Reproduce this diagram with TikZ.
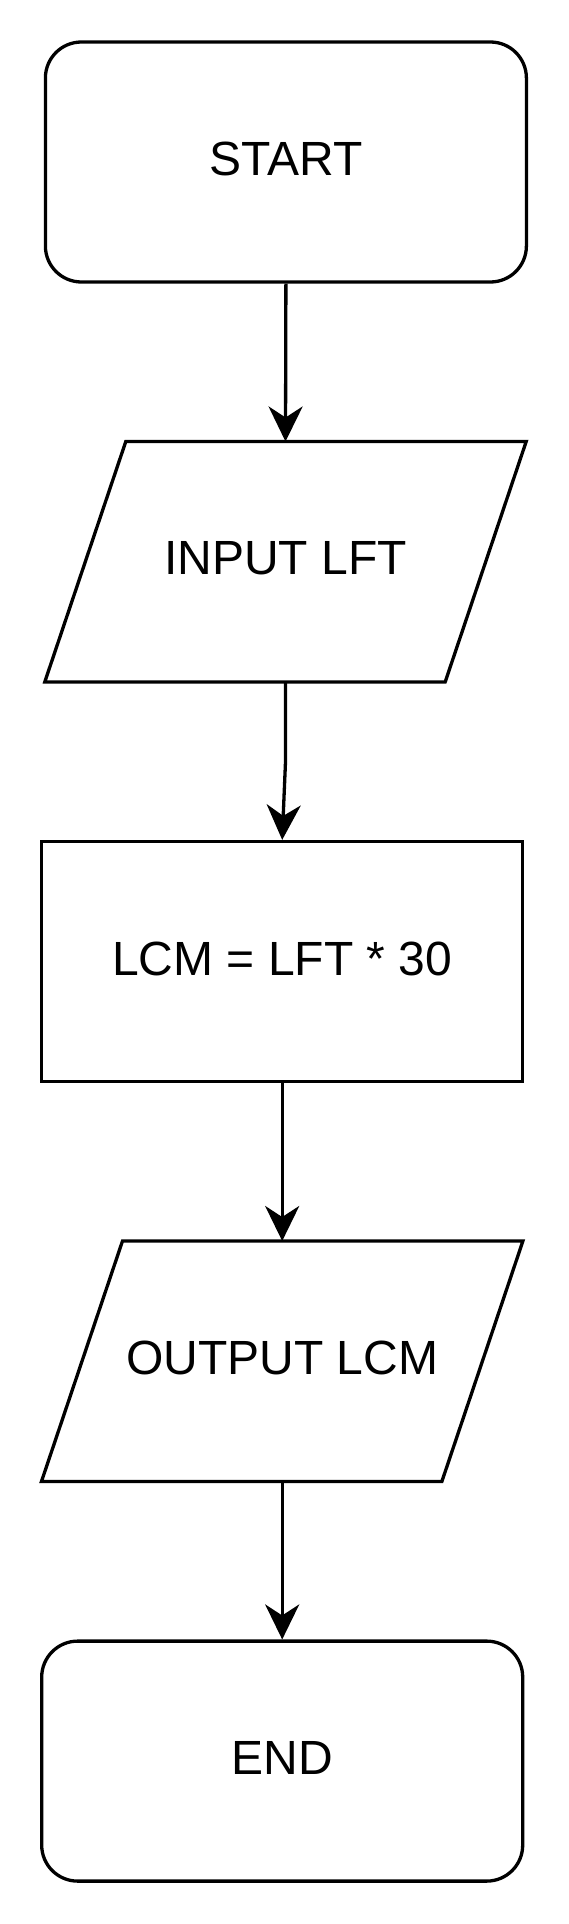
\documentclass[tikz,border=0pt]{standalone}
\usepackage{fontspec}
\setmainfont{Liberation Sans}
\usetikzlibrary{arrows.meta,calc}
\begin{document}
\begin{tikzpicture}[x=1pt,y=-1pt,
  every node/.style={font=\fontsize{48}{57}\selectfont},
  shp/.style={line width=3.3pt},
  term/.style={shp,draw,rounded corners=36pt,minimum width=481pt,minimum height=240pt},
  proc/.style={shp,draw,minimum width=481pt,minimum height=240pt},
  iobox/.style={minimum width=400pt,minimum height=240pt,inner sep=0pt},
  txt/.style={inner sep=0pt},
  arr/.style={line width=3.3pt,-{Stealth[length=35pt,width=34pt,inset=11pt]}}
]
\useasboundingbox (0,0) rectangle (568,1924);
% START
\node[term] (start) at (285.9,162) {};
\node[txt,yshift=3pt] (starttxt) at (start.center) {START};
% INPUT
\node[iobox] (in) at (285.5,561.7) {};
\draw[shp] ($(in.north west)+(40.5,0)$) -- ($(in.north east)+(40.5,0)$)
  -- ($(in.south east)+(-40.5,0)$) -- ($(in.south west)+(-40.5,0)$) -- cycle;
\node[txt,yshift=3pt] (intxt) at (in.center) {INPUT LFT};
% PROCESS
\node[proc] (lcm) at (282.2,961.5) {};
\node[txt,yshift=3pt] (lcmtxt) at (lcm.center) {LCM = LFT * 30};
% OUTPUT
\node[iobox] (out) at (282.2,1361.2) {};
\draw[shp] ($(out.north west)+(40.5,0)$) -- ($(out.north east)+(40.5,0)$)
  -- ($(out.south east)+(-40.5,0)$) -- ($(out.south west)+(-40.5,0)$) -- cycle;
\node[txt,yshift=3pt] (outtxt) at (out.center) {OUTPUT LCM};
% END
\node[term] (end) at (282.2,1761.1) {};
\node[txt,yshift=3pt] (endtxt) at (end.center) {END};
% connectors
\coordinate (b1) at (285.5,761.7);
\draw[arr] (start.south) -- (in.north);
\draw[arr] (in.south) -- (b1) -- (lcm.north);
\draw[arr] (lcm.south) -- (out.north);
\draw[arr] (out.south) -- (end.north);
\end{tikzpicture}
\end{document}
